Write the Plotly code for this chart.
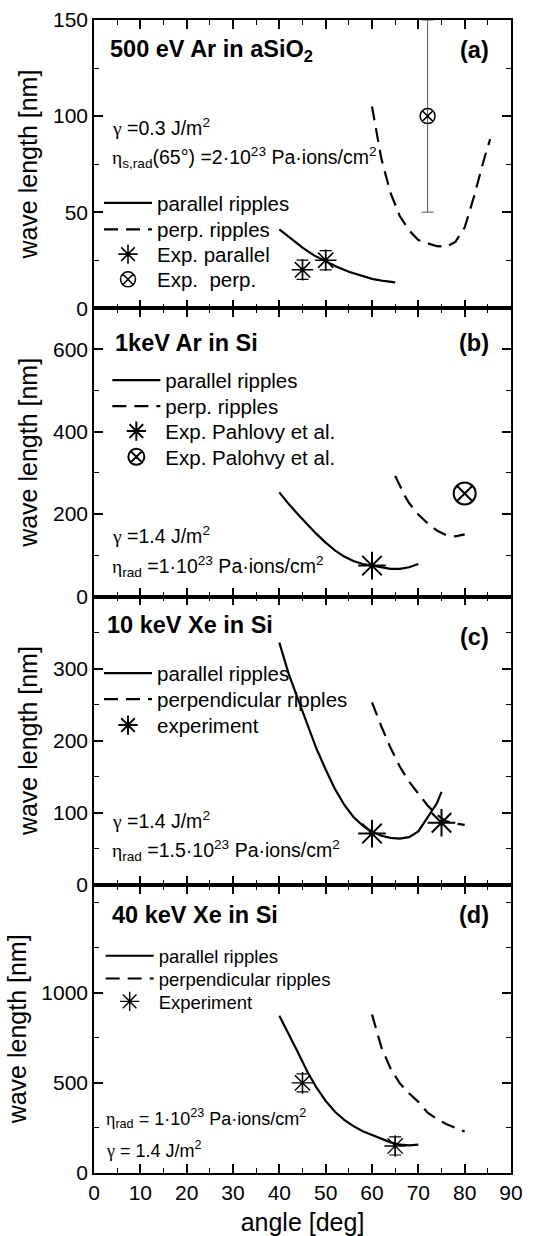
import plotly.graph_objects as go

FONT = "Liberation Sans, Arial, Helvetica, sans-serif"
SERIF = "Liberation Serif, Times New Roman, serif"

# ---- (a) 500 eV Ar in aSiO2 ----
a_par_x = [40, 42.5, 45, 47.5, 50, 52.5, 55, 57.5, 60, 62.5, 65]
a_par_y = [41, 36, 31.5, 27.5, 24.5, 21.5, 19, 17, 15.3, 14.2, 13.5]
a_perp_x = [60, 62, 64, 66, 68, 70, 72, 74, 76, 78, 80, 82, 84, 85.5]
a_perp_y = [105, 78, 60, 48, 40.5, 35.5, 33.8, 32.3, 32, 34.5, 42, 58, 76, 88]
a_exp_par_x = [45, 50]
a_exp_par_y = [20, 25]
a_exp_par_err = [5, 5]
a_exp_perp_x = [72]
a_exp_perp_y = [100]
a_exp_perp_err = [50]

# ---- (b) 1 keV Ar in Si ----
b_par_x = [40, 42, 44, 46, 48, 50, 52, 54, 56, 58, 60, 62, 64, 66, 68, 70]
b_par_y = [253, 225, 200, 175, 152, 131, 112, 97, 86, 79, 75, 70, 67, 67, 71, 79]
b_perp_x = [65, 66, 67, 68, 69, 70, 72, 74, 76, 78, 80]
b_perp_y = [293, 268, 246, 227, 212, 199, 178, 160, 149, 146, 151]
b_exp_par_x = [60]
b_exp_par_y = [75]
b_exp_perp_x = [80]
b_exp_perp_y = [250]

# ---- (c) 10 keV Xe in Si ----
c_par_x = [40, 42, 44, 46, 48, 50, 52, 54, 56, 58, 60, 62, 64, 66, 68, 70, 72, 74, 75]
c_par_y = [336, 293, 258, 222, 189, 160, 133, 111, 94, 82, 74, 68, 65, 64, 66, 74, 93, 113, 129]
c_perp_x = [60, 62, 64, 66, 68, 70, 72, 74, 76, 78, 80]
c_perp_y = [253, 220, 190, 164, 143, 126, 110, 97, 88, 85, 83]
c_exp_x = [60, 75]
c_exp_y = [71, 86]

# ---- (d) 40 keV Xe in Si ----
d_par_x = [40, 42, 44, 46, 48, 50, 52, 54, 56, 58, 60, 62, 64, 66, 68, 70]
d_par_y = [873, 775, 670, 565, 475, 400, 340, 295, 260, 232, 210, 190, 170, 157, 153, 157]
d_perp_x = [60, 62, 64, 66, 68, 70, 72, 74, 76, 78, 80]
d_perp_y = [880, 700, 580, 498, 443, 395, 335, 300, 272, 250, 230]
d_exp_x = [45, 65]
d_exp_y = [500, 150]
d_exp_err = [50, 50]

panels = ["a", "b", "c", "d"]
y_ranges = {"a": [0, 150], "b": [0, 700], "c": [0, 400], "d": [0, 1600]}
y_major = {"a": [0, 50, 100, 150], "b": [0, 200, 400, 600],
           "c": [0, 100, 200, 300], "d": [0, 500, 1000]}
y_minor = {"a": 25, "b": 100, "c": 50, "d": 250}
domains = {"a": [0.75, 1.0], "b": [0.5, 0.75], "c": [0.25, 0.5], "d": [0.0, 0.25]}
axis_id = {"a": "", "b": "2", "c": "3", "d": "4"}

# one legend box per entry: (left x, centre y) in paper units
legend_slots = {
    "a": [(0.012, 0.8413), (0.012, 0.8182), (0.012, 0.7968), (0.012, 0.7749)],
    "b": [(0.032, 0.6875), (0.032, 0.6650), (0.032, 0.6433), (0.032, 0.6210)],
    "c": [(0.012, 0.4334), (0.012, 0.4109), (0.012, 0.3883)],
    "d": [(0.016, 0.1880), (0.016, 0.1683), (0.016, 0.1484)],
}
legend_font = {"a": 20.5, "b": 20.5, "c": 20.5, "d": 18.5}
slot_used = {p: 0 for p in panels}
legend_boxes = []

SOLID = dict(color="black", width=2.2)
DASHED = dict(color="black", width=2.2, dash="14px,8px")

fig = go.Figure()


def add(panel, **kw):
    n = axis_id[panel]
    k = len(legend_boxes) + 1
    lid = "legend" if k == 1 else f"legend{k}"
    x, y = legend_slots[panel][slot_used[panel]]
    slot_used[panel] += 1
    legend_boxes.append((lid, x, y, legend_font[panel]))
    fig.add_trace(go.Scatter(xaxis="x" + n, yaxis="y" + n, legend=lid,
                             showlegend=True, **kw))


def star(size, width=1.6):
    return dict(symbol="asterisk-open", size=size, color="black",
                line=dict(color="black", width=width))


def cross_circle(size, width=1.5):
    return dict(symbol="circle-x-open", size=size, color="black",
                line=dict(color="black", width=width))


# (a)
add("a", x=a_par_x, y=a_par_y, mode="lines", line=SOLID, name="parallel ripples")
add("a", x=a_perp_x, y=a_perp_y, mode="lines", line=DASHED, name="perp. ripples")
add("a", x=a_exp_par_x, y=a_exp_par_y, mode="markers", marker=star(18),
    error_y=dict(type="data", array=a_exp_par_err, color="black", thickness=1.2, width=6),
    name="Exp. parallel")
add("a", x=a_exp_perp_x, y=a_exp_perp_y, mode="markers", marker=cross_circle(15),
    error_y=dict(type="data", array=a_exp_perp_err, color="#555", thickness=1, width=6),
    name="Exp.&nbsp; perp.")

# (b)
add("b", x=b_par_x, y=b_par_y, mode="lines", line=SOLID, name="parallel ripples")
add("b", x=b_perp_x, y=b_perp_y, mode="lines", line=DASHED, name="perp. ripples")
add("b", x=b_exp_par_x, y=b_exp_par_y, mode="markers", marker=star(23, 2),
    name="Exp. Pahlovy et al.")
add("b", x=b_exp_perp_x, y=b_exp_perp_y, mode="markers", marker=cross_circle(22, 2),
    name="Exp. Palohvy et al.")

# (c)
add("c", x=c_par_x, y=c_par_y, mode="lines", line=SOLID, name="parallel ripples")
add("c", x=c_perp_x, y=c_perp_y, mode="lines", line=DASHED, name="perpendicular ripples")
add("c", x=c_exp_x, y=c_exp_y, mode="markers", marker=star(23, 2), name="experiment")

# (d)
add("d", x=d_par_x, y=d_par_y, mode="lines", line=SOLID, name="parallel ripples")
add("d", x=d_perp_x, y=d_perp_y, mode="lines", line=DASHED, name="perpendicular ripples")
add("d", x=d_exp_x, y=d_exp_y, mode="markers", marker=star(18, 1.4),
    error_y=dict(type="data", array=d_exp_err, color="black", thickness=1.2, width=6),
    name="Experiment")

layout = dict(
    width=542, height=1236,
    margin=dict(l=94, r=31, t=20, b=63),
    paper_bgcolor="white", plot_bgcolor="white",
    font=dict(family=FONT, size=21, color="black"),
    showlegend=True,
)

for p in panels:
    n = axis_id[p]
    layout["xaxis" + n] = dict(
        domain=[0, 1], anchor="y" + n, range=[0, 90],
        tickvals=list(range(0, 91, 10)),
        showticklabels=(p == "d"),
        ticks="inside", ticklen=9, tickwidth=1.6, tickcolor="black",
        minor=dict(dtick=5, tick0=0, ticks="inside", ticklen=5, tickwidth=1.4, tickcolor="black"),
        showline=True, linewidth=1.5, linecolor="black", mirror="ticks",
        showgrid=False, zeroline=False, automargin=False,
        tickfont=dict(size=21, family=FONT),
        title=dict(text="angle [deg]" if p == "d" else "",
                   font=dict(size=25, family=FONT), standoff=18),
    )
    layout["yaxis" + n] = dict(
        domain=domains[p], anchor="x" + n, range=y_ranges[p],
        tickvals=y_major[p],
        ticks="inside", ticklen=9, tickwidth=1.6, tickcolor="black",
        minor=dict(dtick=y_minor[p], tick0=0, ticks="inside", ticklen=5, tickwidth=1.4, tickcolor="black"),
        showline=True, linewidth=1.5, linecolor="black", mirror="ticks",
        showgrid=False, zeroline=False, automargin=False,
        tickfont=dict(size=21, family=FONT),
        title=dict(text="wave length [nm]", font=dict(size=25, family=FONT), standoff=8),
    )

for lid, x, y, fs in legend_boxes:
    layout[lid] = dict(
        x=x, y=y, xanchor="left", yanchor="middle", xref="paper", yref="paper",
        bgcolor="rgba(0,0,0,0)", borderwidth=0, visible=True,
        font=dict(size=fs, family=FONT), itemsizing="trace",
        itemwidth=48, tracegroupgap=0,
    )

fig.update_layout(**layout)


def g(sym):
    return f"<span style='font-family:{SERIF}'>{sym}</span>"


notes = [
    # panel titles
    (0.034, 0.9737, "left", "<b>500 eV Ar in aSiO<sub>2</sub></b>", 23.5),
    (0.952, 0.9737, "right", "<b>(a)</b>", 23.5),
    (0.045, 0.7197, "left", "<b>1keV Ar in Si</b>", 23.5),
    (0.952, 0.7197, "right", "<b>(b)</b>", 23.5),
    (0.026, 0.4750, "left", "<b>10 keV Xe in Si</b>", 23.5),
    (0.952, 0.4646, "right", "<b>(c)</b>", 23.5),
    (0.038, 0.2235, "left", "<b>40 keV Xe in Si</b>", 23.5),
    (0.952, 0.2235, "right", "<b>(d)</b>", 23.5),
    # parameters
    (0.038, 0.9069, "left", g("γ") + " =0.3 J/m<sup>2</sup>", 19.5),
    (0.038, 0.8809, "left", g("η") + "<sub>s,rad</sub>(65°) =2·10<sup>23</sup> Pa·ions/cm<sup>2</sup>", 19.5),
    (0.038, 0.5531, "left", g("γ") + " =1.4 J/m<sup>2</sup>", 19.5),
    (0.038, 0.5256, "left", g("η") + "<sub>rad</sub> =1·10<sup>23</sup> Pa·ions/cm<sup>2</sup>", 19.5),
    (0.038, 0.3059, "left", g("γ") + " =1.4 J/m<sup>2</sup>", 19.5),
    (0.038, 0.2799, "left", g("η") + "<sub>rad</sub> =1.5·10<sup>23</sup> Pa·ions/cm<sup>2</sup>", 19.5),
    (0.024, 0.0474, "left", g("η") + "<sub>rad</sub> = 1·10<sup>23</sup> Pa·ions/cm<sup>2</sup>", 18),
    (0.024, 0.0206, "left", g("γ") + " = 1.4 J/m<sup>2</sup>", 18),
]
for x, y, xa, txt, fs in notes:
    fig.add_annotation(x=x, y=y, xref="paper", yref="paper", xanchor=xa, yanchor="middle",
                       text=txt, showarrow=False, font=dict(size=fs, family=FONT, color="black"))

fig.write_html("out.html")
